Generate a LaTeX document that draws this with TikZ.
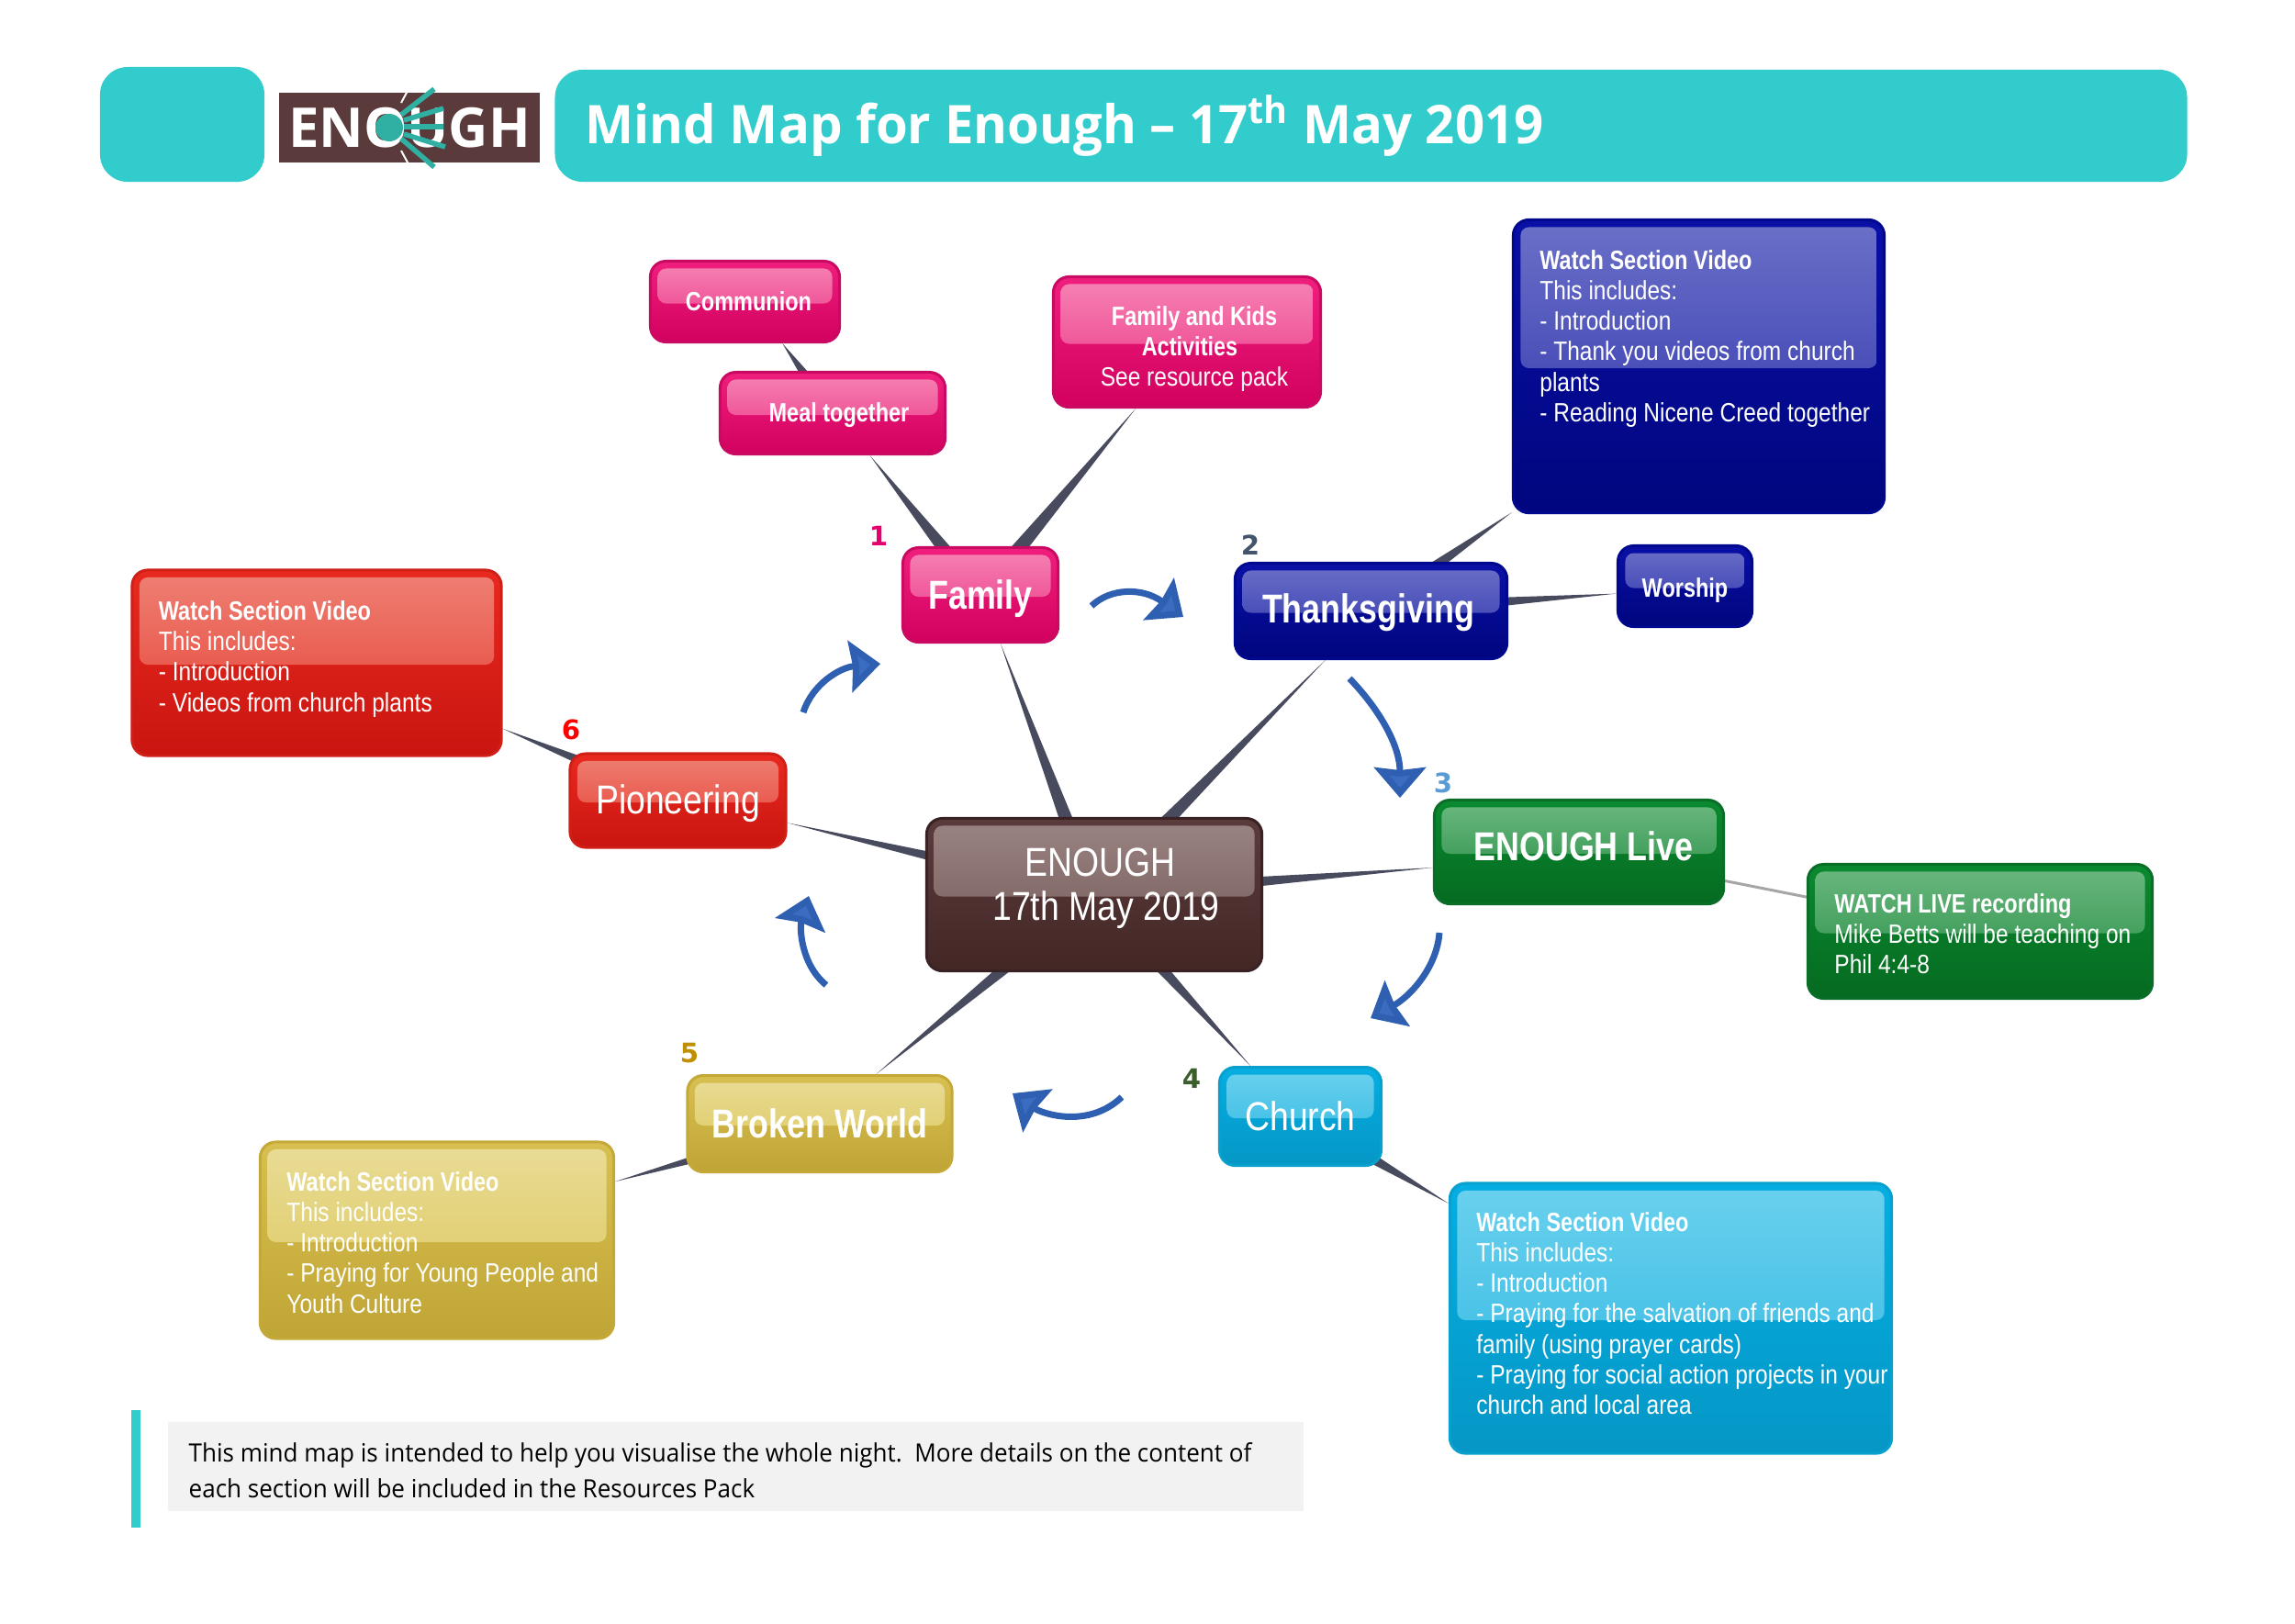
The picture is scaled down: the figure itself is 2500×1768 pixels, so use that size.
\documentclass[tikz,border=0pt]{standalone}
\usepackage{fontspec}
\setmainfont{Open Sans}
\newfontfamily\titlefont[FakeStretch=0.97]{Open Sans}
\newfontfamily\notefont[FakeStretch=0.95]{Open Sans}
\newfontfamily\boxfont[FakeStretch=0.85,BoldFeatures={FakeStretch=0.815}]{Liberation Sans}
\newfontfamily\markfont{DejaVu Sans}
\usetikzlibrary{calc,arrows.meta,backgrounds}
\definecolor{banner}{HTML}{33CCCC}
\definecolor{logo brown}{HTML}{5A3A3A}
\definecolor{logo teal}{HTML}{2FB0A2}
\definecolor{spoke}{HTML}{484B5E}
\definecolor{flow}{HTML}{2F5FB0}
\definecolor{flow head}{HTML}{3A6CC0}
\definecolor{footer grey}{HTML}{F2F2F2}
\definecolor{pink edge}{HTML}{C80A62}\definecolor{pink top}{HTML}{F01E7C}\definecolor{pink base}{HTML}{D2005E}
\definecolor{pink gloss}{HTML}{F684B4}\definecolor{pink fade}{HTML}{EA2E82}
\definecolor{navy edge}{HTML}{00088E}\definecolor{navy top}{HTML}{0A10A6}\definecolor{navy base}{HTML}{00067E}
\definecolor{navy gloss}{HTML}{6B70C8}\definecolor{navy fade}{HTML}{2A30AA}
\definecolor{red edge}{HTML}{CF2018}\definecolor{red top}{HTML}{E9291F}\definecolor{red base}{HTML}{C91510}
\definecolor{red gloss}{HTML}{EE8074}\definecolor{red fade}{HTML}{E63A2E}
\definecolor{green edge}{HTML}{0A6E28}\definecolor{green top}{HTML}{0A8A30}\definecolor{green base}{HTML}{056A20}
\definecolor{green gloss}{HTML}{6CB880}\definecolor{green fade}{HTML}{1F8A3E}
\definecolor{cyan edge}{HTML}{0AA0CE}\definecolor{cyan top}{HTML}{05AEE2}\definecolor{cyan base}{HTML}{0597C6}
\definecolor{cyan gloss}{HTML}{6AD1EE}\definecolor{cyan fade}{HTML}{2BB5E0}
\definecolor{gold edge}{HTML}{C4A939}\definecolor{gold top}{HTML}{D8C050}\definecolor{gold base}{HTML}{BFA535}
\definecolor{gold gloss}{HTML}{E9DC96}\definecolor{gold fade}{HTML}{DAC556}
\definecolor{brown edge}{HTML}{3A2224}\definecolor{brown top}{HTML}{5A3C3C}\definecolor{brown base}{HTML}{432725}
\definecolor{brown gloss}{HTML}{9A8482}\definecolor{brown fade}{HTML}{6E5453}
\definecolor{num one}{HTML}{E6006E}
\definecolor{num two}{HTML}{44546A}
\definecolor{num three}{HTML}{5B9BD5}
\definecolor{num four}{HTML}{3B5F2A}
\definecolor{num five}{HTML}{BF9000}
\tikzset{mapbox/.style={draw=#1 edge, line width=.03cm, rounded corners=.17cm, inner sep=0pt,
        top color=#1 top, bottom color=#1 base, text=white, align=center,
        path picture={\shade[top color=#1 gloss, bottom color=#1 fade, rounded corners=.09cm]
            ($(path picture bounding box.north west)+(8,8)$) rectangle
            ($(path picture bounding box.east)+(-8,2)$);}},
    smalltext/.style={font=\boxfont\bfseries\fontsize{8.2}{9.4}\selectfont},
    bigtext/.style={font=\boxfont\bfseries\fontsize{12.5}{14}\selectfont},
    plaintext/.style={font=\boxfont\fontsize{12.5}{13.6}\selectfont},
    notebox/.style={font=\boxfont\fontsize{8.2}{9.4}\selectfont, align=flush left,
        text width=#1, inner xsep=.29cm},
    digit/.style={font=\markfont\bfseries\fontsize{8.3}{10}\selectfont, inner sep=0pt},
    flowline/.style={draw=flow, line width=.07cm, -{Stealth[length=.33cm,width=.56cm,inset=.03cm,fill=flow head]}}}
\def\spoke#1#2#3{\fill[spoke] ($(#1)!#3!90:(#2)$) -- ($(#1)!#3!-90:(#2)$) -- (#2) -- cycle;}
\begin{document}
\begin{tikzpicture}[x=.01cm,y=-.01cm]
    \useasboundingbox (0,0) rectangle (2500,1768);
    % header
    \node[fill=banner, rounded corners=.3cm, minimum width=1.79cm, minimum height=1.25cm, inner sep=0pt] (corner) at (198.5,135.5) {};
    \node[fill=logo brown, minimum width=2.84cm, minimum height=.76cm, inner sep=0pt, text=white,
        font=\bfseries\fontsize{17}{20}\selectfont] (logo) at (446,139) {ENOUGH};
    \begin{scope}[line width=.055cm]
        \fill[logo teal] (424,139) circle (15);
        \draw[white, line width=.02cm] (437,112) -- (452,84);
        \draw[white, line width=.02cm] (437,164) -- (451,190);
        \draw[logo teal] (437,125) -- (473,97);
        \draw[logo teal] (440,131) -- (483,118);
        \draw[logo teal] (440,138) -- (483,138);
        \draw[logo teal] (440,146) -- (485,160);
        \draw[logo teal] (437,151) -- (473,182);
    \end{scope}
    \node[fill=banner, rounded corners=.3cm, minimum height=1.22cm, text width=17.11cm, inner xsep=.33cm, align=flush left, text=white,
        font=\titlefont\bfseries\fontsize{16.5}{18}\selectfont] (title) at (1493.5,137) {Mind Map for Enough – 17\textsuperscript{th} May 2019};

    % main nodes
    \node[mapbox=brown, plaintext, minimum width=3.65cm, minimum height=1.66cm] (enough) at (1192,974.5) {\hspace*{.13cm}ENOUGH\\\hspace*{.26cm}17th May 2019\rule[-.22cm]{0pt}{0pt}};
    \node[mapbox=pink, bigtext, minimum width=1.69cm, minimum height=1.03cm] (family) at (1068,648) {\rule{0pt}{.40cm}Family};
    \node[mapbox=navy, bigtext, minimum width=2.96cm, minimum height=1.04cm] (thanks) at (1493.5,665.5) {\rule{0pt}{.35cm}\hspace*{-.06cm}Thanksgiving};
    \node[mapbox=green, bigtext, minimum width=3.15cm, minimum height=1.13cm] (live) at (1720,928) {\hspace*{.1cm}ENOUGH Live\\[-.36cm]\null};
    \node[mapbox=cyan, plaintext, minimum width=1.76cm, minimum height=1.07cm] (church) at (1416.5,1216) {Church};
    \node[mapbox=gold, bigtext, minimum width=2.88cm, minimum height=1.05cm] (broken) at (893,1224) {Broken World};
    \node[mapbox=red, plaintext, minimum width=2.35cm, minimum height=1.02cm] (pioneer) at (738.5,872) {\rule{0pt}{.39cm}Pioneering};

    % leaf nodes
    \node[mapbox=pink, smalltext, minimum width=2.06cm, minimum height=.88cm] (communion) at (811.5,328.5) {\hspace*{.08cm}Communion};
    \node[mapbox=pink, smalltext, minimum width=2.45cm, minimum height=.89cm] (meal) at (907,450) {\rule{0pt}{.255cm}\hspace*{.14cm}Meal together};
    \node[mapbox=pink, font=\boxfont\fontsize{8.2}{9.4}\selectfont, minimum width=2.91cm, minimum height=1.42cm] (kids) at (1293,372.5)
        {\null\\[.02cm]\hspace*{.16cm}\textbf{Family and Kids}\\\hspace*{.06cm}\textbf{Activities}\\\hspace*{.16cm}See resource pack};
    \node[mapbox=navy, smalltext, minimum width=1.46cm, minimum height=.88cm] (worship) at (1835.5,638.5) {\rule{0pt}{.305cm}Worship};
    \node[mapbox=navy, notebox=3.46cm, minimum height=3.19cm] (navyvideo) at (1850.5,399)
        {\textbf{Watch Section Video}\\This includes:\\- Introduction\\- Thank you videos from church\\plants\\\mbox{- Reading Nicene Creed together}\\[.33cm]\null};
    \node[mapbox=red, notebox=3.44cm, minimum height=2.02cm] (redvideo) at (345,722)
        {\textbf{Watch Section Video}\\This includes:\\- Introduction\\- Videos from church plants\\[-.19cm]\null};
    \node[mapbox=green, notebox=3.17cm, minimum height=1.46cm] (livevideo) at (2157,1014.5)
        {\null\\[-.06cm]\textbf{WATCH LIVE recording}\\\mbox{Mike Betts will be teaching on}\\Phil 4:4-8};
    \node[mapbox=cyan, notebox=4.23cm, minimum height=2.94cm] (cyanvideo) at (1820,1436)
        {\textbf{Watch Section Video}\\This includes:\\- Introduction\\\mbox{- Praying for the salvation of friends and}\\family (using prayer cards)\\\mbox{- Praying for social action projects in your}\\church and local area\\[-.22cm]\null};
    \node[mapbox=gold, notebox=3.27cm, minimum height=2.14cm] (goldvideo) at (476,1351)
        {\rule{0pt}{.26cm}\textbf{Watch Section Video}\\This includes:\\- Introduction\\\mbox{- Praying for Young People and}\\Youth Culture};

    % spokes behind the boxes
    \begin{scope}[on background layer]
        \spoke{enough}{family}{.10cm}
        \spoke{enough}{thanks}{.10cm}
        \spoke{enough}{live}{.10cm}
        \spoke{enough}{church}{.10cm}
        \spoke{enough}{broken}{.10cm}
        \spoke{enough}{pioneer}{.10cm}
        \spoke{family}{meal}{.10cm}
        \spoke{family}{kids}{.10cm}
        \spoke{meal}{communion}{.10cm}
        \spoke{thanks}{navyvideo}{.10cm}
        \spoke{thanks}{worship}{.10cm}
        \spoke{pioneer}{redvideo}{.10cm}
        \spoke{church}{cyanvideo}{.10cm}
        \spoke{broken}{goldvideo}{.10cm}
        \draw[gray!70, line width=.03cm] (live) -- (livevideo);
    \end{scope}

    % section numbers
    \node[digit, text=num one] (num1) at (957,584) {1};
    \node[digit, text=num two] (num2) at (1362,594) {2};
    \node[digit, text=num three] (num3) at (1572,853) {3};
    \node[digit, text=num four] (num4) at (1298,1175) {4};
    \node[digit, text=num five] (num5) at (751,1147) {5};
    \node[digit, text=red] (num6) at (622,795) {6};

    % flow between the sections
    \coordinate (f1a) at (1189,660);  \coordinate (f1b) at (1289,672);
    \coordinate (f2a) at (1470,739);  \coordinate (f2b) at (1525,869);
    \coordinate (f3a) at (1568,1016); \coordinate (f3b) at (1493,1109);
    \coordinate (f4a) at (1222,1195); \coordinate (f4b) at (1103,1191);
    \coordinate (f5a) at (900,1073);  \coordinate (f5b) at (881,976);
    \coordinate (f6a) at (875,776);   \coordinate (f6b) at (959,723);
    \draw[flowline] (f1a) .. controls (1210,640) and (1245,640) .. (f1b);
    \draw[flowline] (f2a) .. controls (1500,770) and (1525,810) .. (f2b);
    \draw[flowline] (f3a) .. controls (1565,1055) and (1535,1086) .. (f3b);
    \draw[flowline] (f4a) .. controls (1185,1230) and (1135,1213) .. (f4b);
    \draw[flowline] (f5a) .. controls (872,1050) and (871,1010) .. (f5b);
    \draw[flowline] (f6a) .. controls (885,745) and (915,727) .. (f6b);

    % footer
    \node[fill=banner, minimum width=.10cm, minimum height=1.28cm, inner sep=0pt] (bar) at (148,1600) {};
    \node[fill=footer grey, text width=11.91cm, inner xsep=.23cm, inner ysep=0pt, minimum height=.97cm, align=flush left,
        font=\notefont\fontsize{7.8}{11}\selectfont] (footer) at (801.5,1597)
        {\rule{0pt}{.30cm}\mbox{This mind map is intended to help you visualise the whole night.\ \ More details on the content of}\\each section will be included in the Resources Pack};
\end{tikzpicture}
\end{document}
